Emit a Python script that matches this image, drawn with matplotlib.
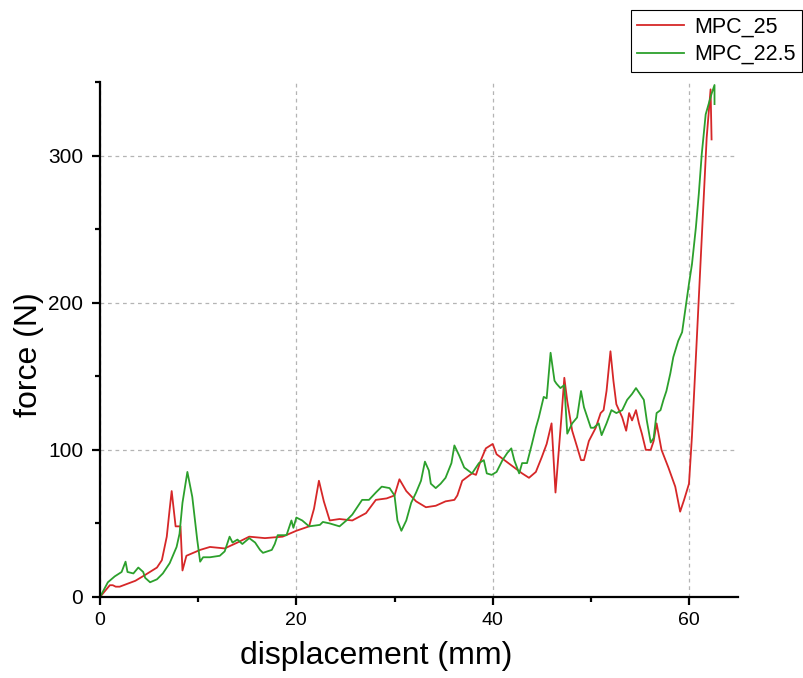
import matplotlib
matplotlib.use("Agg")
import matplotlib.pyplot as plt
from matplotlib.ticker import MultipleLocator

plt.rcParams['font.family'] = ['Liberation Sans', 'DejaVu Sans']

# MPC_25 curve: displacement (mm) / force (N)
disp_25 = [0, 0.5, 1.0, 1.3, 1.6, 2.0, 3.6, 4.6, 5.8, 6.3, 6.8, 7.1, 7.3, 7.5, 7.7,
           8.2, 8.4, 8.8, 9.5, 10.2, 11.2, 12.7, 14.0, 15.2, 16.8, 18.6, 20.0, 21.3,
           21.8, 22.3, 22.8, 23.4, 24.4, 25.7, 27.1, 28.1, 29.2, 30.0, 30.5, 31.2,
           32.2, 33.2, 34.2, 35.2, 36.1, 36.4, 36.9, 37.9, 38.3, 38.8, 39.3, 40.0,
           40.4, 41.4, 42.2, 43.0, 43.7, 44.4, 45.0, 45.5, 46.0, 46.4, 47.0, 47.3,
           47.6, 48.1, 48.6, 49.0, 49.3, 49.8, 50.5, 51.0, 51.3, 51.6, 52.0, 52.3,
           52.6, 53.2, 53.6, 53.9, 54.2, 54.6, 54.9, 55.2, 55.6, 56.1, 56.4, 56.7,
           57.2, 57.9, 58.6, 59.1, 59.5, 60.0, 60.3, 60.8, 61.3, 61.8, 62.2, 62.3]
force_25 = [0, 4, 8, 8, 7, 7, 11, 15, 20, 25, 41, 60, 72, 60, 48,
            48, 18, 28, 30, 32, 34, 33, 37, 41, 40, 41, 45, 48,
            60, 79, 65, 52, 53, 52, 57, 66, 67, 69, 80, 72,
            65, 61, 62, 65, 66, 69, 79, 84, 83, 93, 101, 104,
            97, 92, 88, 84, 81, 85, 95, 104, 118, 71, 122, 149,
            133, 113, 102, 93, 93, 106, 115, 125, 127, 140, 167, 147,
            131, 122, 113, 125, 120, 127, 118, 111, 100, 100, 106, 118,
            100, 88, 75, 58, 66, 77, 109, 176, 244, 312, 345, 311]

# MPC_22.5 curve
disp_225 = [0, 0.8, 1.5, 2.2, 2.6, 2.8, 3.4, 3.9, 4.4, 4.6, 5.1, 5.8, 6.4, 7.1, 7.8,
            8.1, 8.4, 8.9, 9.4, 9.9, 10.2, 10.5, 11.2, 12.2, 12.7, 13.2, 13.5, 14.0,
            14.5, 15.2, 15.8, 16.3, 16.6, 17.5, 17.8, 18.1, 19.0, 19.5, 19.7, 20.0,
            20.6, 21.3, 22.4, 22.7, 23.4, 24.4, 25.1, 25.7, 26.7, 27.4, 28.1, 28.7,
            29.5, 30.0, 30.3, 30.7, 31.2, 31.7, 32.2, 32.7, 33.1, 33.5, 33.7, 34.2,
            34.7, 35.2, 35.8, 36.1, 36.6, 37.1, 37.9, 38.6, 39.1, 39.4, 39.9, 40.4,
            41.0, 41.5, 41.9, 42.2, 42.7, 43.0, 43.5, 44.0, 44.4, 44.7, 45.2, 45.5,
            45.9, 46.3, 46.5, 46.9, 47.3, 47.6, 48.1, 48.6, 49.0, 49.3, 49.6, 50.0,
            50.3, 50.8, 51.1, 51.6, 52.1, 52.6, 53.2, 53.7, 54.2, 54.6, 54.9, 55.4,
            55.7, 56.1, 56.4, 56.7, 57.1, 57.4, 57.7, 58.1, 58.4, 58.9, 59.3, 59.7,
            60.0, 60.3, 60.7, 61.0, 61.3, 61.7, 62.3, 62.6, 62.6]
force_225 = [0, 10, 14, 17, 24, 17, 16, 20, 17, 13, 10, 12, 16, 23, 34,
             43, 64, 85, 68, 39, 24, 27, 27, 28, 31, 41, 37, 39,
             36, 40, 37, 32, 30, 32, 36, 42, 42, 52, 47, 54,
             52, 48, 49, 51, 50, 48, 52, 56, 66, 66, 71, 75,
             74, 69, 52, 45, 52, 64, 71, 79, 92, 86, 77, 74,
             77, 81, 91, 103, 96, 88, 84, 91, 93, 84, 83, 85,
             93, 98, 101, 93, 84, 91, 91, 104, 115, 122, 136, 135,
             166, 147, 145, 142, 144, 111, 118, 122, 140, 129, 123, 115,
             115, 118, 110, 118, 127, 125, 127, 134, 138, 142, 139, 134,
             120, 105, 108, 125, 127, 134, 140, 152, 163, 174, 180, 199,
             213, 226, 251, 274, 301, 328, 342, 348, 335]

fig = plt.figure(figsize=(8.04, 6.78), dpi=100)
ax = fig.add_axes([0.1244, 0.1195, 0.7936, 0.7595])

ax.plot(disp_25, force_25, color='#d62728', lw=1.3, label='MPC_25')
ax.plot(disp_225, force_225, color='#2ca02c', lw=1.3, label='MPC_22.5')

ax.set_xlim(0, 65)
ax.set_ylim(0, 350)
ax.xaxis.set_major_locator(MultipleLocator(20))
ax.xaxis.set_minor_locator(MultipleLocator(10))
ax.yaxis.set_major_locator(MultipleLocator(100))
ax.yaxis.set_minor_locator(MultipleLocator(50))

ax.grid(True, which='major', linestyle=(0, (3, 3)), color='#b4b4b4', lw=0.9)
ax.set_axisbelow(True)

for s in ['top', 'right']:
    ax.spines[s].set_visible(False)
for s in ['left', 'bottom']:
    ax.spines[s].set_linewidth(1.6)

ax.tick_params(which='major', direction='out', length=6, width=1.6)
ax.tick_params(which='minor', direction='out', length=3.5, width=1.6)
ax.tick_params(axis='x', labelsize=14, pad=5)
ax.tick_params(axis='y', labelsize=15, pad=6)

ax.set_xlabel('displacement (mm)', fontsize=23, labelpad=8)
ax.xaxis.set_label_coords(0.433, -0.085)
ax.set_ylabel('force (N)', fontsize=23, labelpad=6)
ax.yaxis.set_label_coords(-0.088, 0.47)

leg = ax.legend(loc='upper right', bbox_to_anchor=(0.9975, 0.985),
                bbox_transform=fig.transFigure, fontsize=15.5, frameon=True,
                fancybox=False, edgecolor='black', framealpha=1,
                handlelength=2.2, handletextpad=0.45, borderpad=0.3,
                labelspacing=0.3, borderaxespad=0)
leg.get_frame().set_linewidth(0.8)

fig.savefig('out.png', dpi=100)
